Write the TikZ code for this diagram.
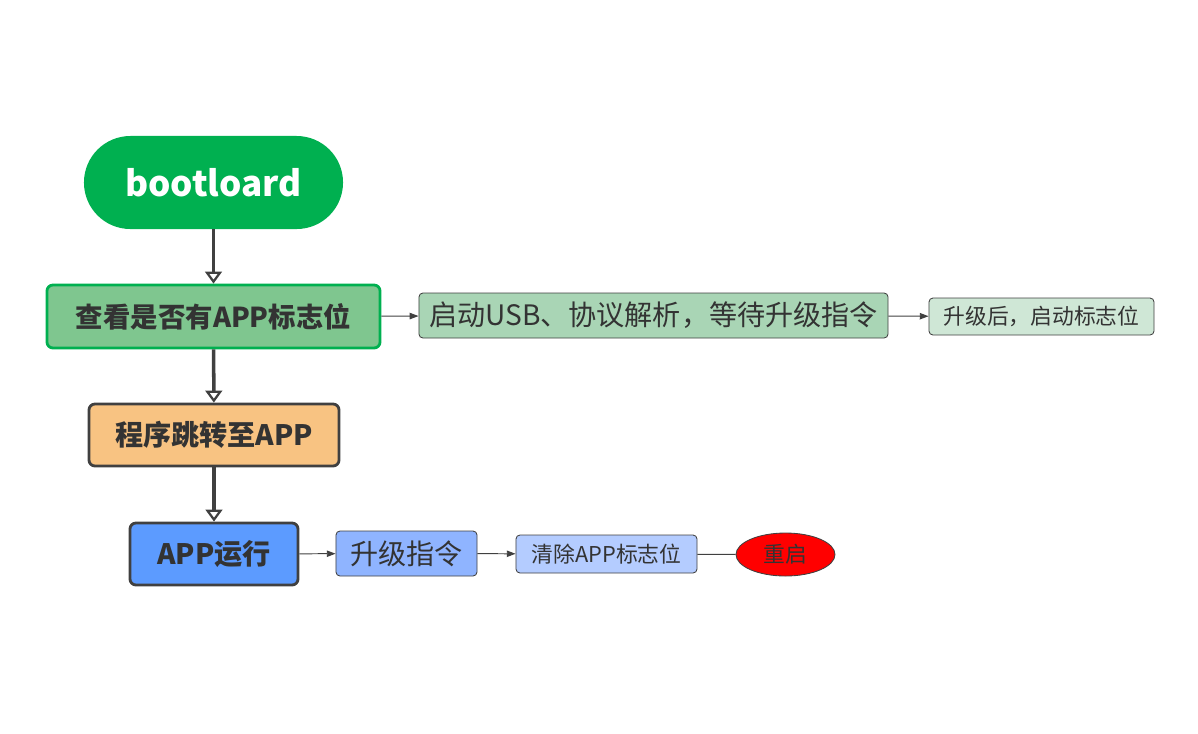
\documentclass[tikz,border=0pt]{standalone}
\usepackage{fontspec}
\setmainfont{Noto Sans CJK SC}
\usetikzlibrary{arrows.meta,shapes.geometric}
\definecolor{bootgreen}{HTML}{00B050}
\definecolor{checkgreen}{HTML}{7FC68F}
\definecolor{usbgreen}{HTML}{A9D5B5}
\definecolor{flaggreen}{HTML}{CFE7D6}
\definecolor{jumporange}{HTML}{F8C382}
\definecolor{runblue}{HTML}{5C9BFF}
\definecolor{upgblue}{HTML}{8FB4FF}
\definecolor{clrblue}{HTML}{B4CCFF}
\definecolor{darkline}{HTML}{404040}
\definecolor{darktext}{HTML}{333333}
\begin{document}
\begin{tikzpicture}[x=0.025cm,y=-0.025cm,
        bigbox/.style = {rectangle, draw=darkline, line width=2pt,
            rounded corners=0.15cm, inner sep=0pt, text=darktext,
            font=\bfseries\fontsize{20}{24}\selectfont},
        smallbox/.style = {rectangle, draw=darkline, line width=0.6pt,
            rounded corners=0.1cm, inner sep=0pt, text=darktext},
        bigarrow/.style = {draw=darkline, line width=2.5pt,
            -{Triangle[open,length=0.3cm,width=0.42cm,line width=1.6pt]}},
        smallarrow/.style = {draw=darkline, line width=0.7pt,
            -{Triangle[length=0.22cm,width=0.16cm]}}]

    \useasboundingbox (0,0) rectangle (1198,733);

    % Start
    \node[rectangle, fill=bootgreen, rounded corners=1.16cm,
        minimum width=6.475cm, minimum height=2.325cm, text=white,
        font=\bfseries\fontsize{25}{30}\selectfont] (boot) at (213.5,182.5) {bootloard};

    % Main column
    \node[bigbox, draw=bootgreen, fill=checkgreen, minimum width=8.325cm,
        minimum height=1.575cm, font=\bfseries\fontsize{19.5}{24}\selectfont] (check) at (213.5,316.5) {查看是否有APP标志位};
    \node[bigbox, fill=jumporange, minimum width=6.25cm,
        minimum height=1.55cm] (jump) at (214,435) {程序跳转至APP};
    \node[bigbox, fill=runblue, minimum width=4.2cm,
        minimum height=1.55cm] (run) at (214,554) {APP运行};

    % Upgrade branch
    \node[smallbox, fill=usbgreen, minimum width=11.725cm, minimum height=1.125cm,
        font=\fontsize{20}{24}\selectfont] (usb) at (653.5,315.5) {启动USB、协议解析，等待升级指令};
    \node[smallbox, fill=flaggreen, minimum width=5.625cm, minimum height=0.925cm,
        font=\fontsize{15.5}{19}\selectfont] (flag) at (1041.5,316.5) {升级后，启动标志位};

    % Run branch
    \node[smallbox, fill=upgblue, minimum width=3.525cm, minimum height=1.125cm,
        font=\fontsize{20}{24}\selectfont] (upg) at (406.5,553.5) {升级指令};
    \node[smallbox, fill=clrblue, minimum width=4.525cm, minimum height=0.95cm,
        font=\fontsize{15.5}{19}\selectfont] (clr) at (606.5,554) {清除APP标志位};
    \node[ellipse, draw=darkline, line width=0.6pt, fill=red, inner sep=0pt,
        minimum width=2.475cm, minimum height=1.075cm, text=darktext,
        font=\fontsize{15.5}{19}\selectfont] (rst) at (785.5,554.5) {重启};

    % Connectors
    \draw[bigarrow] (boot) -- (check);
    \draw[bigarrow] (check) -- (jump);
    \draw[bigarrow] (jump) -- (run);
    \draw[smallarrow] (check) -- (usb);
    \draw[smallarrow] (usb) -- (flag);
    \draw[smallarrow] (run) -- (upg);
    \draw[smallarrow] (upg) -- (clr);
    \draw[draw=darkline, line width=0.7pt] (clr) -- (rst);

\end{tikzpicture}
\end{document}
